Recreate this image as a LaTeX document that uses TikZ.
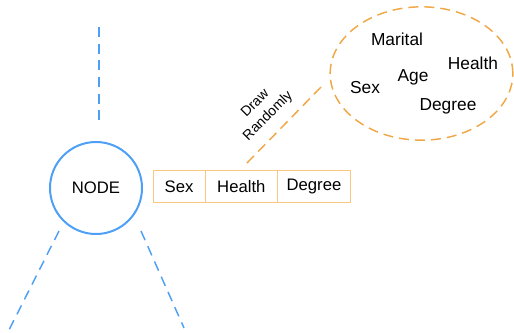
\documentclass[tikz,border=0pt]{standalone}
\usepackage{fontspec}
\setsansfont{Liberation Sans}
\usetikzlibrary{shapes, shapes.geometric, arrows}
\usetikzlibrary{positioning}
\tikzset{every picture/.style={/utils/exec={\sffamily}, line width=0.75pt}}
\definecolor{treeblue}{RGB}{77,160,245}
\definecolor{bagorange}{RGB}{240,168,70}
\definecolor{cellorange}{RGB}{248,200,130}

\begin{document}
\begin{tikzpicture}[x=0.75pt,y=0.75pt,yscale=-1,xscale=1]

     \tikzstyle{treenode} = [circle,
						draw = treeblue,
						line width = 1.5pt,
						minimum size = 69pt,
						font = \fontsize{12.5}{14}\selectfont
						]
     \tikzstyle{branch} = [draw = treeblue, line width = 1.1pt, dash pattern = on 7.5pt off 5pt]
     \tikzstyle{cell} = [draw = cellorange,
						minimum height = 24.5pt,
						inner sep = 0pt,
						outer sep = 0pt,
						anchor = west,
						font = \fontsize{12.5}{14}\selectfont
						]
     \tikzstyle{bag} = [ellipse,
						draw = bagorange,
						line width = 1.1pt,
						dash pattern = on 7.5pt off 4.5pt,
						minimum width = 137pt,
						minimum height = 100pt
						]
     \tikzstyle{feature} = [font = \fontsize{13}{15}\selectfont]

\useasboundingbox (0,0) rectangle (514,332);

% tree node and its branches
\node [treenode] (root) at (96,188) {NODE};
\coordinate (up1) at (99,27);
\coordinate (up2) at (99,121);
\coordinate (l1) at (59,231);
\coordinate (l2) at (9,330);
\coordinate (r1) at (141,231);
\coordinate (r2) at (184,328);
\draw [branch] (up1) -- (up2);
\draw [branch] (l1) -- (l2);
\draw [branch] (r1) -- (r2);

% sampled features
\node [cell, minimum width = 39pt] (c1) at (153,186.5) {Sex};
\node [cell, minimum width = 54.5pt, right = 0pt of c1] (c2) {Health};
\node [cell, minimum width = 54.5pt, right = 0pt of c2] (c3) {Degree};

% pool of features
\node [bag] (pool) at (421.5,73.5) {};
\node [feature] (f1) at (397,39) {Marital};
\node [feature] (f2) at (473,63) {Health};
\node [feature] (f3) at (413,77) {Age};
\node [feature] (f4) at (365,88) {Sex};
\node [feature] (f5) at (448,106) {Degree};

\coordinate (d1) at (247,163);
\coordinate (d2) at (325,83);
\draw [draw = bagorange, line width = 1.1pt, dash pattern = on 7.5pt off 4.5pt] (d1) -- (d2);
\node [rotate = 45, align = center, font = \fontsize{10.5}{13.5}\selectfont] (lbl) at (262,110) {Draw\\Randomly};

\end{tikzpicture}
\end{document}
